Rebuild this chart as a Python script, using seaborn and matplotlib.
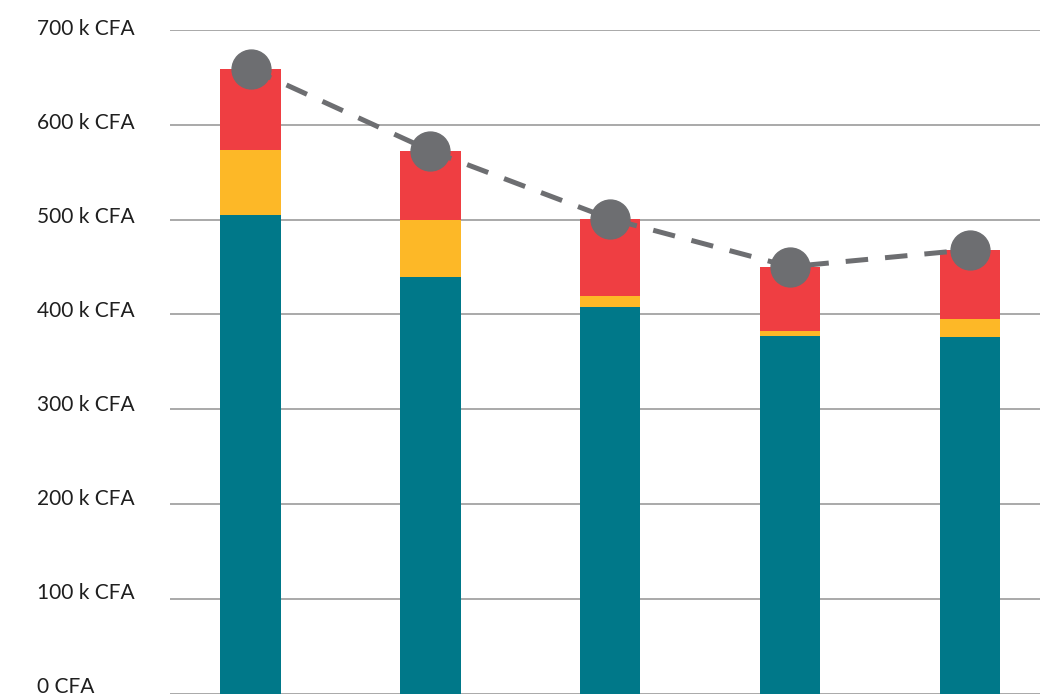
import numpy as np
import pandas as pd
import matplotlib
matplotlib.use("Agg")
import matplotlib.pyplot as plt
import matplotlib.transforms as mtransforms
import seaborn as sns

# values in CFA
categories = ["A", "B", "C", "D", "E"]
teal_part = [505000, 439000, 408000, 377600, 376700]
yellow_part = [68600, 60800, 11700, 5400, 18800]
red_part = [85400, 72700, 81100, 67300, 72700]
totals = [t + y + r for t, y, r in zip(teal_part, yellow_part, red_part)]

tick_values = [0, 100000, 200000, 300000, 400000, 500000, 600000, 700000]
tick_labels = ["0 CFA", "100 k CFA", "200 k CFA", "300 k CFA",
               "400 k CFA", "500 k CFA", "600 k CFA", "700 k CFA"]

TEAL = "#007889"
YELLOW = "#FDB827"
RED = "#EF3E42"
GREY = "#6D6E71"

df = pd.DataFrame({
    "cat": categories,
    "teal": teal_part,
    "teal_yellow": [t + y for t, y in zip(teal_part, yellow_part)],
    "total": totals,
})

sns.set_style("white")
plt.rcParams["font.family"] = ["Lato", "DejaVu Sans"]

W, H = 1047, 696
fig = plt.figure(figsize=(W / 100, H / 100), dpi=100)
ax = fig.add_axes([170 / W, (H - 694.3) / H, (1040 - 170) / W, (694.3 - 29.6) / H])

bw = 0.335
for col, c, z in [("total", RED, 2), ("teal_yellow", YELLOW, 3), ("teal", TEAL, 4)]:
    sns.barplot(data=df, x="cat", y=col, color=c, width=bw, saturation=1,
                linewidth=0, edgecolor="none", ax=ax, zorder=z)

ax.plot(np.arange(len(categories)), totals, color=GREY, lw=3.6,
        ls=(0, (4.5, 3.4)), marker="o", ms=28, mfc=GREY, mec=GREY,
        zorder=5, clip_on=False)

ax.set_xlim(-0.448, 4.39)
ax.set_ylim(0, 700000)
ax.set_yticks(tick_values)
ax.set_yticklabels(tick_labels, fontsize=15, color="#1f1f1f")
ax.set_xticks([])
ax.set_xlabel("")
ax.set_ylabel("")
ax.tick_params(axis="y", length=0, pad=96)
for v, lab in zip(tick_values, ax.get_yticklabels()):
    lab.set_horizontalalignment("left")
    dy = (9.5 - 6.9 * v / 700000) / 100
    lab.set_transform(lab.get_transform() +
                      mtransforms.ScaledTranslation(0, dy, fig.dpi_scale_trans))

ax.grid(axis="y", color="#a3a3a3", lw=1.3, zorder=0)
ax.set_axisbelow(True)
for s in ax.spines.values():
    s.set_visible(False)

fig.savefig("out.png", dpi=100)
